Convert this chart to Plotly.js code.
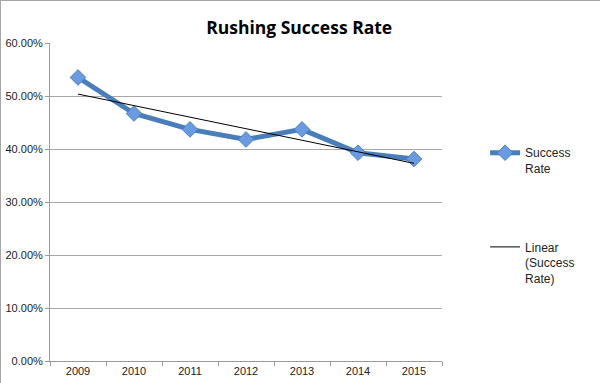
<!DOCTYPE html>
<html>
<head>
<meta charset="utf-8">
<script src="https://cdn.plot.ly/plotly-3.0.1.min.js"></script>
<style>
html,body{margin:0;padding:0;background:#fff;}
#chart{width:600px;height:383px;box-sizing:border-box;border:1px solid #a6a6a6;}
</style>
</head>
<body>
<div id="chart"></div>
<script>
const years = ['2009','2010','2011','2012','2013','2014','2015'];
const successRate = [0.535, 0.467, 0.437, 0.418, 0.437, 0.393, 0.381];
const yTicks = [0, 0.1, 0.2, 0.3, 0.4, 0.5, 0.6];
const yTickLabels = ['0.00%','10.00%','20.00%','30.00%','40.00%','50.00%','60.00%'];

// Linear (least-squares) trendline of the success rate, as the spreadsheet draws it
const n = successRate.length;
const xs = successRate.map((_, i) => i + 1);
const mx = xs.reduce((a, b) => a + b, 0) / n;
const my = successRate.reduce((a, b) => a + b, 0) / n;
let sxy = 0, sxx = 0;
xs.forEach((x, i) => { sxy += (x - mx) * (successRate[i] - my); sxx += (x - mx) * (x - mx); });
const slope = sxy / sxx;
const intercept = my - slope * mx;
const trend = xs.map(x => intercept + slope * x);

const traces = [
  {
    x: years, y: successRate, type: 'scatter', mode: 'lines+markers',
    name: 'Success<br>Rate', legendgroup: 'a',
    line: {color: '#4a7ebb', width: 5},
    marker: {symbol: 'diamond', size: 12, color: '#6a9be0', line: {color: '#4a7ebb', width: 1}}
  },
  {
    x: years, y: trend, type: 'scatter', mode: 'lines',
    name: 'Linear<br>(Success<br>Rate)', legendgroup: 'b',
    line: {color: '#000000', width: 1}
  }
];

const layout = {
  width: 600, height: 383,
  margin: {l: 49, r: 159, t: 42, b: 23},
  paper_bgcolor: '#ffffff', plot_bgcolor: '#ffffff',
  font: {family: 'Liberation Sans, Arial, sans-serif', size: 11, color: '#222'},
  title: {text: '<b>Rushing Success Rate</b>', x: 0.497, xanchor: 'center', y: 0.93, yanchor: 'middle',
          font: {family: 'Open Sans, Liberation Sans, sans-serif', size: 17.5, color: '#000'}},
  xaxis: {
    type: 'category', range: [-0.5, 6.5], showgrid: false, zeroline: false,
    showline: true, linecolor: '#9a9a9a', linewidth: 1,
    ticks: 'outside', ticklen: 4, tickcolor: '#9a9a9a', tickson: 'boundaries',
    tickfont: {size: 11, color: '#222'}, fixedrange: true
  },
  yaxis: {
    range: [0, 0.6], tickvals: yTicks, ticktext: yTickLabels,
    showgrid: true, gridcolor: '#a8a8a8', gridwidth: 1, zeroline: false,
    showline: true, linecolor: '#9a9a9a', linewidth: 1,
    ticks: 'outside', ticklen: 4, tickcolor: '#9a9a9a',
    tickfont: {size: 11, color: '#222'}, fixedrange: true
  },
  showlegend: true,
  legend: {x: 1.11, xanchor: 'left', y: 0.70, yanchor: 'top', valign: 'top',
           font: {size: 12, color: '#222'}, tracegroupgap: 60, itemwidth: 30,
           bgcolor: 'rgba(0,0,0,0)'}
};

Plotly.newPlot('chart', traces, layout, {displayModeBar: false, staticPlot: true});
</script>
</body>
</html>
